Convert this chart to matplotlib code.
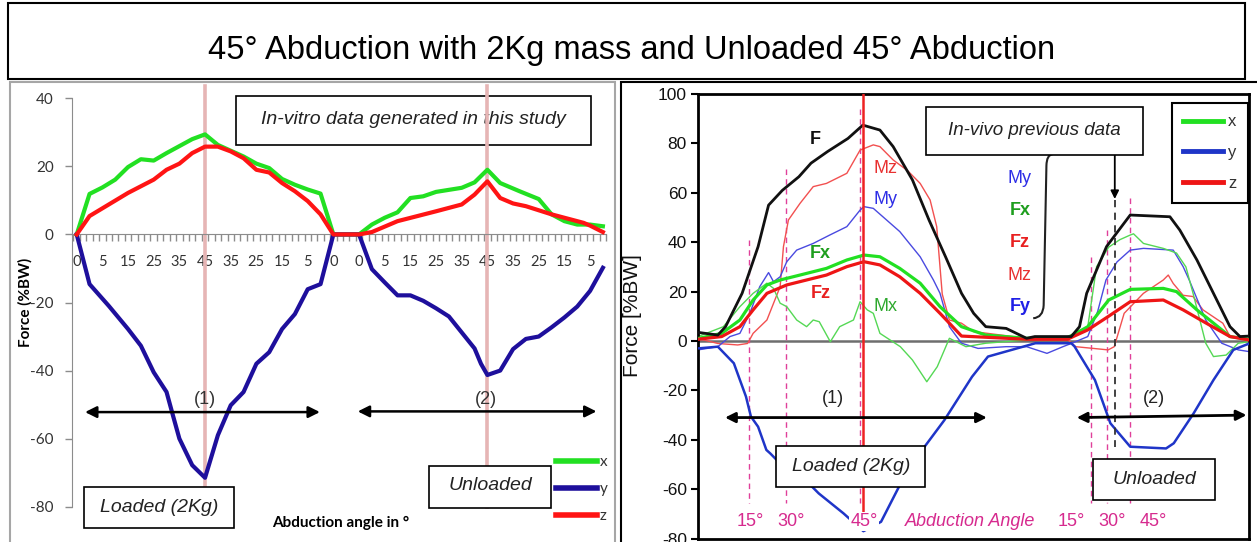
import matplotlib
matplotlib.use("Agg")
import matplotlib.pyplot as plt
from matplotlib.patches import Rectangle, PathPatch
from matplotlib.path import Path

# ---------------- LEFT PANEL DATA (in-vitro, Excel category axis) ----------------
left_tick_idx = [0, 4, 8, 12, 16, 20, 24, 28, 32, 36, 40,
                 44, 48, 52, 56, 60, 64, 68, 72, 76, 80]
left_tick_labels = ["0", "5", "15", "25", "35", "45", "35", "25", "15", "5", "0",
                    "0", "5", "15", "25", "35", "45", "35", "25", "15", "5"]
left_n_categories = 83
left_peak_idx = [20, 64]
left_yticks = [-80, -60, -40, -20, 0, 20, 40]

x_idx = [0, 2, 4, 6, 8, 10, 12, 14, 18, 20, 22, 26, 28, 30, 32, 34, 36, 38, 40,
         44, 46, 48, 50, 52, 54, 56, 60, 62, 64, 66, 69, 72, 74, 76, 78, 80, 82]
x_val = [0, 11.9, 13.8, 16.1, 19.8, 22.1, 21.7, 23.9, 28.0, 29.4, 26.3, 22.9, 20.8, 19.5,
         16.3, 14.6, 13.2, 12.0, 0, 0, 2.9, 4.9, 6.5, 10.7, 11.2, 12.5, 13.7, 15.3, 19.0,
         15.1, 12.7, 10.4, 5.9, 3.9, 2.9, 2.9, 2.4]

y_idx = [0, 2, 5, 8, 10, 12, 14, 15, 16, 18, 20, 22, 24, 26, 28, 30, 32, 34, 36, 38, 40,
         44, 46, 48, 50, 52, 54, 56, 58, 60, 62, 63, 64, 66, 68, 70, 72, 74, 76, 78, 80, 82]
y_val = [0, -14.6, -21.0, -27.8, -32.7, -40.5, -46.3, -53.2, -60.0, -67.8, -71.5, -59.0,
         -50.2, -46.3, -38.0, -34.6, -27.8, -23.4, -16.1, -14.6, 0, 0, -10.2, -14.1, -17.9,
         -17.9, -19.5, -21.7, -24.1, -28.8, -33.5, -38.0, -41.3, -40.0, -33.7, -30.7, -30.0,
         -27.3, -24.4, -21.2, -16.6, -9.8]

z_idx = [0, 2, 8, 12, 14, 16, 18, 20, 22, 24, 26, 28, 30, 32, 34, 36, 38, 40,
         44, 46, 50, 56, 60, 62, 64, 66, 68, 70, 74, 79, 80, 82]
z_val = [0, 5.4, 12.2, 16.1, 19.0, 20.8, 23.9, 25.8, 25.8, 24.4, 22.4, 19.0, 18.2, 15.1,
         12.7, 9.8, 5.9, 0, 0, 0.7, 3.9, 6.8, 8.8, 11.7, 15.6, 10.7, 9.1, 8.3, 5.9, 3.4,
         2.6, 0.7]

# ---------------- RIGHT PANEL DATA (in-vivo, time axis 0..100) ----------------
right_yticks = [-80, -60, -40, -20, 0, 20, 40, 60, 80, 100]

F_t = [0, 3.6, 5, 8, 10.9, 12.8, 15.3, 18.3, 20.5, 23.5, 27.2, 29.9, 33, 35.4, 38.9, 41.9,
       44.9, 47.8, 50, 52.2, 55.9, 59.6, 61.1, 67.7, 69.2, 70.5, 74.1, 75.9, 78.4, 85.6,
       87.4, 90.5, 93.5, 96.5, 98.3, 100]
F_v = [3.5, 2.4, 5.8, 19.3, 38.2, 55, 61, 66.5, 72, 76.7, 82, 87.4, 85.4, 78.7, 65.2, 49,
       34.1, 19.3, 11.2, 5.8, 5.1, 1.1, 1.8, 1.8, 5.8, 19.3, 38.2, 43.6, 51, 50.3, 44.9,
       32.8, 19.3, 5.8, 1.8, 2]

Mz_t = [0, 3.6, 7.2, 9, 10, 12.5, 14.9, 15.5, 16.4, 18.5, 20.9, 23.3, 27, 29.4, 31.8, 33,
        35.4, 38, 40.3, 42.1, 43.3, 44.3, 45.6, 47.8, 50, 59.6, 67, 68.5, 74.4, 75.5, 77.3,
        80.8, 84.4, 85.3, 86.2, 88, 89.8, 91.6, 95.2, 96.5, 100]
Mz_v = [1, -1, -1.6, -1, 3.1, 8.5, 22, 38.2, 49, 55.7, 62.5, 63.8, 67.9, 77.3, 79.4, 78.7,
        73.3, 69, 63.8, 57.1, 46.3, 19, 8.5, 7.2, 3.8, 1.1, 0.7, -2.3, -3.6, -2.3, 11.2,
        19.3, 24.7, 26.7, 23.3, 18.5, 18, 12.6, 7.2, 1.8, 0.4]

My_t = [0, 3.6, 5.8, 7.6, 9.4, 11.2, 12.8, 13.7, 14.9, 16.1, 17.9, 20.9, 23.9, 27, 29.4,
        30.1, 31.8, 34.2, 36.6, 40.3, 42.7, 43.9, 45.6, 47.8, 50.8, 55.9, 59.6, 63.3, 66.2,
        67.7, 70.7, 72.5, 74, 76, 78.4, 80.8, 86.2, 88, 89.1, 92.1, 95, 98, 100]
My_v = [-3.6, -2.3, 1.8, 3.1, 11.2, 22, 27.7, 24, 26, 32.1, 36.8, 39.5, 42.9, 46.3, 53,
        54.4, 53.7, 49, 44.3, 34.1, 24.7, 19.3, 5.8, -0.9, -3, -2.3, -2.3, -5, -2.3, -1,
        1.8, 12, 24.7, 32, 36.8, 37.5, 36.8, 30.1, 24.7, 8.5, -0.9, -3.6, -4.3]

Mx_t = [0, 4.6, 7.6, 10, 12.5, 13.7, 14.9, 16.1, 17.9, 19.7, 20.9, 22, 24, 25.7, 28.2,
        29.4, 30.7, 31.8, 33, 36.7, 38.9, 41.5, 43.4, 45.6, 48.6, 52.2, 59.6, 67, 70.7,
        72.3, 74.5, 76.5, 78.4, 79, 80.8, 84.4, 86.8, 88.5, 89.8, 92.1, 93.5, 95.8, 98, 100]
Mx_v = [1.8, 5.8, 13.9, 19.3, 23.4, 21.3, 15.3, 13.9, 8.5, 5.8, 8.5, 7.8, -0.3, 5.8, 8.5,
        15.9, 12.6, 11.2, 3.1, -2.3, -7.7, -16.5, -10.4, 1.1, -2.3, -0.9, 0.4, 1.8, 5.8,
        30.1, 38, 41, 42.9, 43.4, 39.5, 37.5, 35.6, 30, 19.3, -0.9, -6.3, -5.7, -0.9, -0.3]

Fx_t = [0, 4.3, 7.6, 10, 12.5, 14.9, 18.5, 23.3, 27, 30.1, 33, 36.6, 40.3, 43.9, 47.8,
        52.2, 59.6, 67, 70.7, 74.5, 78.4, 84.4, 86.8, 90.5, 92.8, 96.5, 100]
Fx_v = [1, 3.1, 8.5, 16.6, 22.7, 24.7, 26.7, 29.4, 32.8, 34.8, 34.1, 29.4, 23.4, 13.9, 5.8,
        2.4, 1.1, 1.1, 5.8, 16.6, 20.9, 21.3, 20, 12.6, 8.5, 1.8, 0.7]

Fz_t = [0, 4.3, 7.6, 10, 12.5, 16.1, 19.7, 23.3, 27, 30.1, 33, 36.6, 40.3, 43.9, 47.8,
        59.6, 67, 70.7, 74.4, 78.4, 84.4, 88, 92.2, 96.5, 100]
Fz_v = [0.7, 1.8, 5.8, 12.6, 19.3, 22.7, 24.7, 26.7, 30.1, 32.1, 30.8, 26, 19.3, 11.2, 2,
        0.7, 0.7, 4.5, 9.9, 15.9, 16.6, 12.6, 7.2, 1.8, 0.4]

Fy_t = [0, 3.6, 6.5, 8.7, 9.6, 10.9, 12.4, 13.1, 14.6, 15.3, 18.3, 21.9, 26.4, 30, 33.2,
        36.8, 41.1, 44.7, 49.7, 52.6, 56.9, 61.2, 67.7, 68.3, 72, 74.8, 78.4, 84.9, 86.3,
        89.9, 93.5, 97.1, 100]
Fy_v = [-3, -2.3, -9, -22.5, -30.6, -34.7, -44.1, -45.5, -48.9, -49.5, -53.6, -61.7, -69.8,
        -77, -73.2, -57.5, -42.8, -32, -14.5, -6.3, -3.6, -0.9, -0.9, -2.2, -15.8, -33.3,
        -42.8, -43.5, -41.4, -29.3, -15.8, -3.6, -1]

peak_t = 29.9
angle_mark_t = [9.3, 16.0, 29.4, 71.3, 74.1, 78.4]
angle_mark_top = [41, 69.5, 94, 34, 45, 58]
angle_label_t = [9.4, 16.8, 30.1, 67.7, 75.1, 82.5]
angle_labels = ["15°", "30°", "45°", "15°", "30°", "45°"]
arrow_t = 75.6

# ---------------- FIGURE ----------------
W, H = 1257, 542
fig = plt.figure(figsize=(W / 100, H / 100), dpi=100)
fig.patch.set_facecolor("white")

ARIAL = "Liberation Sans"
EXCEL = "Lato"


def fr(x0, y0, x1, y1):
    return (x0 / W, 1 - y1 / H), (x1 - x0) / W, (y1 - y0) / H


def box(host, x0, y0, x1, y1, z, ec="black", fc="white", lw=1.2):
    xy, w, h = fr(x0, y0, x1, y1)
    r = Rectangle(xy, w, h, transform=fig.transFigure, facecolor=fc, edgecolor=ec,
                  linewidth=lw, zorder=z, clip_on=False)
    if host is fig:
        fig.add_artist(r)
    else:
        host.add_patch(r)
    return r


def ftext(host, x, y, s, **kw):
    kw.setdefault("ha", "center")
    kw.setdefault("va", "center")
    return host.text(x / W, 1 - y / H, s, transform=fig.transFigure, **kw)


# title and panel frames
box(fig, 8, 3, 1245, 79, 0.5, ec="black", fc="none", lw=1.5)
ftext(fig, 632, 51, "45° Abduction with 2Kg mass and Unloaded 45° Abduction",
      fontsize=23.5, family=ARIAL, color="black")
box(fig, 10, 82, 615, 546, 0.5, ec="#A6A6A6", fc="none", lw=1.5)
box(fig, 621, 82, 1262, 546, 0.5, ec="black", fc="none", lw=1.5)

# ---------------- LEFT AXES ----------------
LX0, LX1, LY0, LY1 = 71.7, 606.1, 98.3, 506.7
ax1 = fig.add_axes([LX0 / W, 1 - LY1 / H, (LX1 - LX0) / W, (LY1 - LY0) / H])
ax1.set_xlim(-0.78, left_n_categories - 0.5)
ax1.set_ylim(-80, 40)
ax1.patch.set_alpha(0)
for s in ["top", "right"]:
    ax1.spines[s].set_visible(False)
ax1.spines["left"].set_color("#8C8C8C")
ax1.spines["bottom"].set_color("#8C8C8C")
ax1.spines["bottom"].set_position(("data", 0))
ax1.set_yticks(left_yticks)
ax1.set_yticklabels([str(v) for v in left_yticks])
ax1.tick_params(axis="y", length=5, width=1, color="#8C8C8C", pad=8,
                labelsize=11, labelcolor="#333333")
ax1.set_xticks(left_tick_idx)
ax1.set_xticklabels(left_tick_labels)
ax1.set_xticks([k - 0.5 for k in range(left_n_categories + 1)], minor=True)
ax1.tick_params(axis="x", which="major", length=0, pad=15, labelsize=10.5,
                labelcolor="#333333")
ax1.tick_params(axis="x", which="minor", length=5, width=1, color="#8C8C8C")
for lab in ax1.get_xticklabels() + ax1.get_yticklabels():
    lab.set_family(EXCEL)

for p in left_peak_idx:
    ax1.plot([p, p], [-80, 43.5], color="#E6B5B5", lw=2.6, zorder=2.5, clip_on=False)

gl, = ax1.plot(x_idx, x_val, color="#22E022", lw=3, zorder=3, solid_joinstyle="round")
bl, = ax1.plot(y_idx, y_val, color="#1E0F9C", lw=3, zorder=3.1, solid_joinstyle="round")
rl, = ax1.plot(z_idx, z_val, color="#FF1414", lw=3, zorder=3.2, solid_joinstyle="round")

arr = dict(arrowstyle="<|-|>", color="black", lw=1.8, mutation_scale=17,
           shrinkA=0, shrinkB=0)
ax1.annotate("", xy=(37.9, -52.2), xytext=(1.3, -52.2), arrowprops=arr, zorder=4)
ax1.annotate("", xy=(81.0, -52.0), xytext=(43.8, -52.0), arrowprops=arr, zorder=4)
ax1.text(20, -48.6, "(1)", ha="center", va="center", fontsize=13, family=ARIAL,
         color="#333333", zorder=4)
ax1.text(63.8, -48.6, "(2)", ha="center", va="center", fontsize=13, family=ARIAL,
         color="#333333", zorder=4)

box(ax1, 236, 96, 591, 145, 2.0)
ftext(ax1, 413.5, 119, "In-vitro data generated in this study", fontsize=14,
      style="italic", family=ARIAL, color="#222222", zorder=2.1)
box(ax1, 84.5, 487, 234, 528, 6)
ftext(ax1, 159, 507, "Loaded (2Kg)", fontsize=14, style="italic", family=ARIAL,
      color="#222222", zorder=6.1)
box(ax1, 428.6, 466, 551, 508, 6)
ftext(ax1, 490, 486, "Unloaded", fontsize=14, style="italic", family=ARIAL,
      color="#222222", zorder=6.1)

leg1 = ax1.legend([gl, bl, rl], ["x", "y", "z"], loc="center left",
                  bbox_to_anchor=(556 / W, 1 - 489 / H), bbox_transform=fig.transFigure,
                  frameon=False, fontsize=11, handlelength=2.7, handletextpad=0.15,
                  labelspacing=0.85, borderpad=0, borderaxespad=0)
for t in leg1.get_texts():
    t.set_family(EXCEL)
    t.set_color("#333333")
for h in leg1.legend_handles:
    h.set_linewidth(4)

ftext(fig, 25.8, 302, "Force (%BW)", rotation=90, fontsize=11, fontweight="bold",
      family=EXCEL, color="black")
ftext(fig, 341, 523, "Abduction angle in °", fontsize=11, fontweight="bold",
      family=EXCEL, color="black")

# ---------------- RIGHT AXES ----------------
RX0, RX1, RY0, RY1 = 698, 1249.3, 94, 538.6
ax2 = fig.add_axes([RX0 / W, 1 - RY1 / H, (RX1 - RX0) / W, (RY1 - RY0) / H])
ax2.set_xlim(0, 100)
ax2.set_ylim(-80, 100)
ax2.patch.set_alpha(0)
for s in ax2.spines.values():
    s.set_linewidth(2)
    s.set_color("black")
ax2.set_xticks([])
ax2.set_yticks(right_yticks)
ax2.set_yticklabels([str(v) for v in right_yticks])
ax2.tick_params(axis="y", length=5, width=1.5, direction="out", pad=3,
                labelsize=12.5, labelcolor="#111111")
for lab in ax2.get_yticklabels():
    lab.set_family(ARIAL)

ax2.axhline(0, color="#6E6E6E", lw=1.8, zorder=1.5)

# angle markers
for t, top in zip(angle_mark_t, angle_mark_top):
    ax2.plot([t, t], [top, -65.7], color="#E0409A", lw=1, ls=(0, (4, 3)), zorder=1.6)
ax2.plot([peak_t, peak_t], [100, -70], color="#EE2222", lw=1.8, zorder=4.5)

# thin curves
ax2.plot(Mz_t, Mz_v, color="#F25050", lw=1.0, zorder=2)
ax2.plot(My_t, My_v, color="#4A4AE0", lw=1.0, zorder=2)
ax2.plot(Mx_t, Mx_v, color="#55D855", lw=1.0, zorder=2)
# thick curves
fxl, = ax2.plot(Fx_t, Fx_v, color="#22E022", lw=2.3, zorder=3)
fzl, = ax2.plot(Fz_t, Fz_v, color="#EE1515", lw=2.3, zorder=3.1)
fyl, = ax2.plot(Fy_t, Fy_v, color="#1F35C8", lw=1.8, zorder=3.2)
ax2.plot(F_t, F_v, color="#111111", lw=2.0, zorder=3.3)

# in-vivo arrow and dashed line
ax2.plot([arrow_t, arrow_t], [57, -42.8], color="#333333", lw=1.3, ls=(0, (4, 3)),
         zorder=4)
ax2.annotate("", xy=(arrow_t, 57.5), xytext=(arrow_t, 75.5),
             arrowprops=dict(arrowstyle="-|>", color="black", lw=1.3,
                             mutation_scale=12, shrinkA=0, shrinkB=0), zorder=4)

# bracket
bp = Path([(64.3, 75.6), (63.25, 75.4), (63.2, 71.0), (62.7, 14.5), (62.6, 9.5),
           (60.8, 9.2)],
          [Path.MOVETO, Path.CURVE3, Path.CURVE3, Path.LINETO, Path.CURVE3, Path.CURVE3])
ax2.add_patch(PathPatch(bp, facecolor="none", edgecolor="#222222", lw=1.5, zorder=4))

# arrows (1) (2)
arr2 = dict(arrowstyle="<|-|>", color="black", lw=2.0, mutation_scale=15,
            shrinkA=0, shrinkB=0)
ax2.annotate("", xy=(52.4, -31), xytext=(4.9, -31), arrowprops=arr2, zorder=5)
ax2.annotate("", xy=(99.5, -30.0), xytext=(68.7, -31.0), arrowprops=arr2, zorder=5)
ax2.text(24.5, -23.2, "(1)", ha="center", va="center", fontsize=13, family=ARIAL,
         color="#222222", zorder=5)
ax2.text(82.7, -23.2, "(2)", ha="center", va="center", fontsize=13, family=ARIAL,
         color="#222222", zorder=5)

# curve labels
lab_kw = dict(ha="center", va="center", family=ARIAL, zorder=5)
ax2.text(21.2, 81.4, "F", color="#111111", fontsize=13, fontweight="bold", **lab_kw)
ax2.text(34.0, 69.9, "Mz", color="#E83030", fontsize=13, **lab_kw)
ax2.text(34.0, 57.1, "My", color="#2E2EE6", fontsize=13, **lab_kw)
ax2.text(22.2, 35.5, "Fx", color="#1E9E1E", fontsize=13, fontweight="bold", **lab_kw)
ax2.text(22.2, 19.3, "Fz", color="#E82020", fontsize=13, fontweight="bold", **lab_kw)
ax2.text(34.0, 13.9, "Mx", color="#2EA82E", fontsize=13, **lab_kw)
ax2.text(58.4, 65.9, "My", color="#2E2EE6", fontsize=13, **lab_kw)
ax2.text(58.4, 53.0, "Fx", color="#1E9E1E", fontsize=13, fontweight="bold", **lab_kw)
ax2.text(58.4, 39.8, "Fz", color="#E82020", fontsize=13, fontweight="bold", **lab_kw)
ax2.text(58.4, 26.7, "Mz", color="#E83030", fontsize=13, **lab_kw)
ax2.text(58.4, 13.9, "Fy", color="#2020E6", fontsize=13, fontweight="bold", **lab_kw)

# angle labels
for t, s in zip(angle_label_t, angle_labels):
    ax2.text(t, -73.2, s, ha="center", va="center", fontsize=13, family=ARIAL,
             color="#D62A8E", zorder=6,
             bbox=dict(boxstyle="square,pad=0.05", fc="white", ec="none"))
ax2.text(49.3, -73.2, "Abduction Angle", ha="center", va="center", fontsize=13,
         style="italic", family=ARIAL, color="#D62A8E", zorder=6)

# boxes in right panel
box(ax2, 925.7, 106.7, 1143.3, 155, 6)
ftext(ax2, 1034.5, 131, "In-vivo previous data", fontsize=13.5, style="italic",
      family=ARIAL, color="#222222", zorder=6.1)
box(ax2, 776.4, 446, 925.4, 486.7, 6)
ftext(ax2, 851, 466.5, "Loaded (2Kg)", fontsize=14, style="italic", family=ARIAL,
      color="#222222", zorder=6.1)
box(ax2, 1092.6, 459.3, 1215, 500, 6)
ftext(ax2, 1154, 480, "Unloaded", fontsize=14, style="italic", family=ARIAL,
      color="#222222", zorder=6.1)

leg2 = ax2.legend([fxl, fyl, fzl], ["x", "y", "z"], loc="upper right",
                  bbox_to_anchor=(1248.3 / W, 1 - 102.7 / H),
                  bbox_transform=fig.transFigure, frameon=True, fancybox=False,
                  framealpha=1, edgecolor="black", fontsize=12, handlelength=2.4,
                  handletextpad=0.3, labelspacing=0.95, borderpad=0.7, borderaxespad=0)
leg2.get_frame().set_linewidth(1.5)
leg2.set_zorder(7)
for t in leg2.get_texts():
    t.set_family(ARIAL)
    t.set_color("#333333")
for h in leg2.legend_handles:
    h.set_linewidth(3.5)

ftext(fig, 632, 316, "Force [%BW]", rotation=90, fontsize=15, family=ARIAL,
      color="#111111")

fig.savefig("out.png", dpi=100, facecolor="white")
